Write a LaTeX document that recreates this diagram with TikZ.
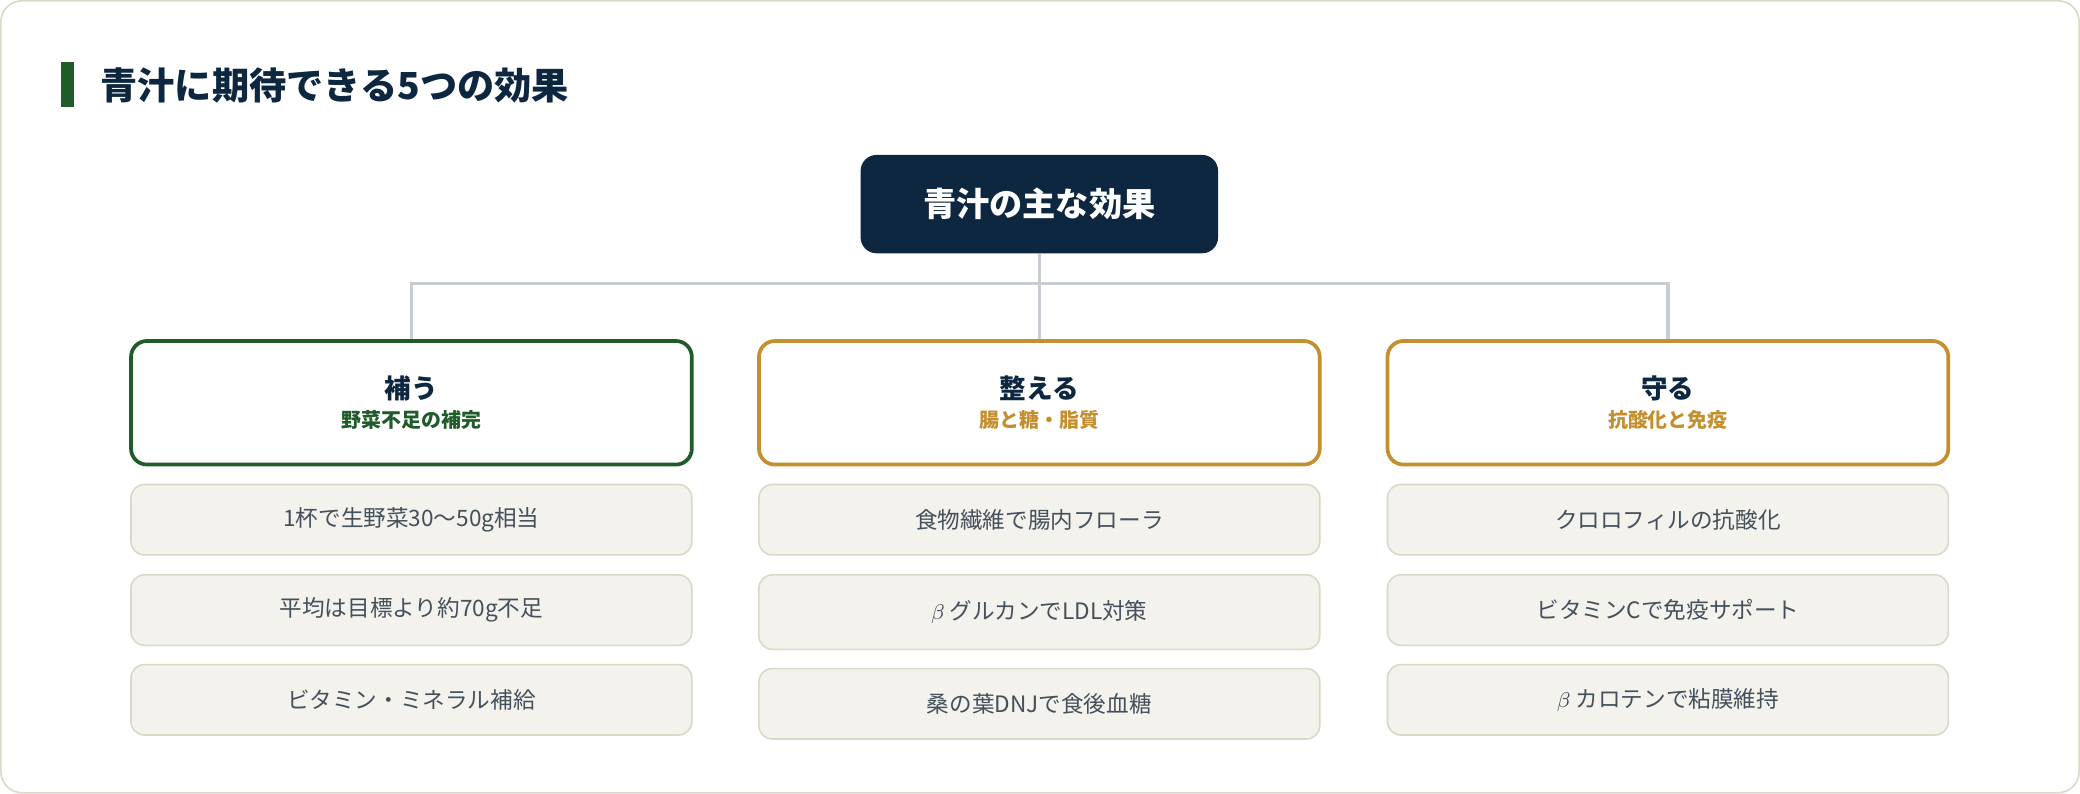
\documentclass[tikz,border=0pt]{standalone}
\usepackage{fontspec}
\setmainfont{Noto Sans CJK JP}
\usetikzlibrary{positioning}
\definecolor{navy}{HTML}{0E2740}
\definecolor{leaf}{HTML}{1F5C2A}
\definecolor{gold}{HTML}{C4902F}
\definecolor{paper}{HTML}{F4F2EC}
\definecolor{rim}{HTML}{DCD8C8}
\definecolor{ink}{HTML}{44505C}
\definecolor{wire}{HTML}{C8CCD4}

\begin{document}
\begin{tikzpicture}[x=0.5pt, y=-0.5pt,
    head/.style={draw=#1, line width=1.4pt, fill=white, rounded corners=6pt,
      minimum width=211pt, minimum height=46.5pt, align=center},
    item/.style={draw=rim, line width=0.6pt, fill=paper, rounded corners=5pt,
      minimum width=211pt, minimum height=26.5pt, text=ink, font=\fontsize{8.5}{10}\selectfont},
    link/.style={draw=wire, line width=1.2pt}]
    % frame and heading
    \draw[rim, line width=0.6pt, fill=white, rounded corners=8pt] (2,2) rectangle (1566,598);
    \fill[leaf] (47,48) rectangle (57,82);
    \node[anchor=west, text=navy, font=\bfseries\fontsize{14}{16}\selectfont] (title) at (70,66) {青汁に期待できる5つの効果};

    % root
    \node[fill=navy, rounded corners=6pt, minimum width=134.5pt, minimum height=37pt,
      text=white, font=\bfseries\fontsize{12.5}{14}\selectfont] (root) at (783.5,155) {青汁の主な効果};

    % columns
    \node[head=leaf] (fill) at (311,304.5) {{\bfseries\fontsize{10}{12}\selectfont\color{navy}補う}\\[-1pt]{\bfseries\fontsize{7.5}{9}\selectfont\color{leaf}野菜不足の補完}};
    \node[head=gold] (tune) at (783.5,304.5) {{\bfseries\fontsize{10}{12}\selectfont\color{navy}整える}\\[-1pt]{\bfseries\fontsize{7.5}{9}\selectfont\color{gold}腸と糖・脂質}};
    \node[head=gold] (guard) at (1256.5,304.5) {{\bfseries\fontsize{10}{12}\selectfont\color{navy}守る}\\[-1pt]{\bfseries\fontsize{7.5}{9}\selectfont\color{gold}抗酸化と免疫}};

    % connectors
    \coordinate (hub) at (783.5,215);
    \draw[link] (root.south) -- (hub);
    \draw[link] (fill.north) |- (hub) -| (guard.north);
    \draw[link] (hub) -- (tune.north);

    % items
    \node[item] (fill1) at (311,392.5) {1杯で生野菜30〜50g相当};
    \node[item] (fill2) at (311,460.5) {平均は目標より約70g不足};
    \node[item] (fill3) at (311,528) {ビタミン・ミネラル補給};
    \node[item] (tune1) at (783.5,392.5) {食物繊維で腸内フローラ};
    \node[item, minimum height=28pt] (tune2) at (783.5,462) {$\beta$ グルカンでLDL対策};
    \node[item] (tune3) at (783.5,531) {桑の葉DNJで食後血糖};
    \node[item] (guard1) at (1256.5,392.5) {クロロフィルの抗酸化};
    \node[item] (guard2) at (1256.5,460.5) {ビタミンCで免疫サポート};
    \node[item] (guard3) at (1256.5,528) {$\beta$ カロテンで粘膜維持};
\end{tikzpicture}
\end{document}
